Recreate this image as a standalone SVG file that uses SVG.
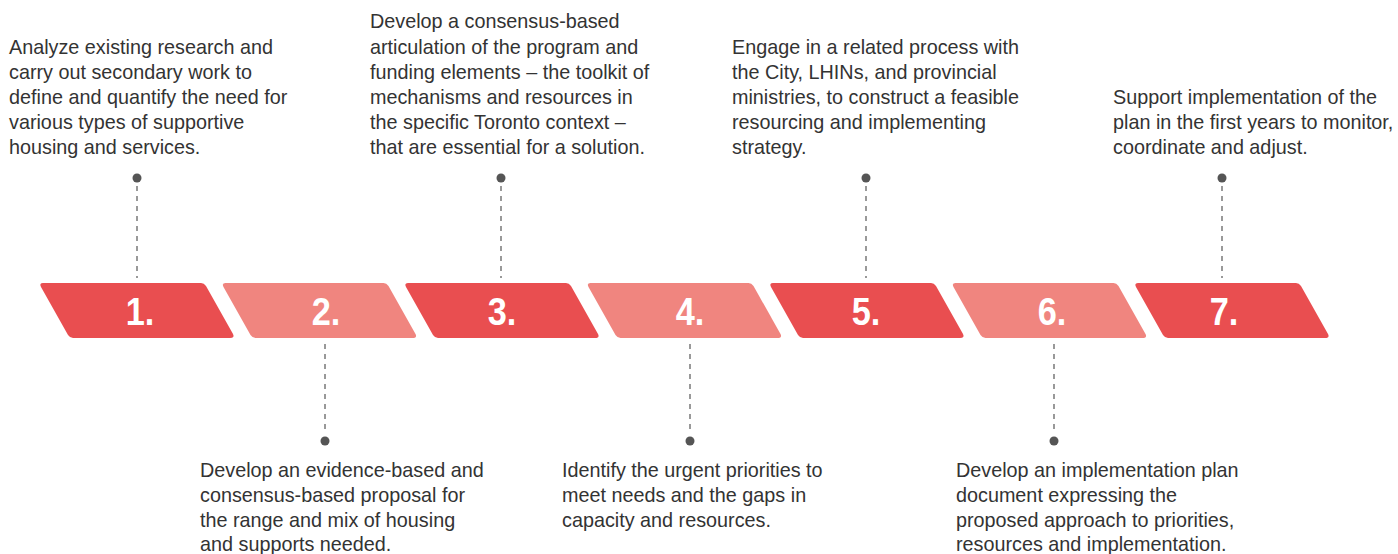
<svg xmlns="http://www.w3.org/2000/svg" width="1398" height="554" viewBox="0 0 1398 554">
<defs>
<style>
.t{font-family:"Liberation Sans",Arial,sans-serif;font-size:19.8px;fill:#333}
.n{font-family:"Liberation Sans",Arial,sans-serif;font-size:39px;font-weight:bold;fill:#fff;text-anchor:middle}
.d{fill:#E94E50}
.l{fill:#F0857F}
.c{stroke:#999;stroke-width:2;stroke-dasharray:5 5;fill:none}
.dot{fill:#555}
</style>
<path id="shape" d="M3,0 L161,0 Q164,0 166,3 L193,51 Q195,55 190,55 L33,55 Q30,55 28,52 L1,4 Q-1,0 3,0 Z"/>
</defs>
<rect width="1398" height="554" fill="#fff"/>
<g id="connectors">
<line class="c" x1="137" y1="186" x2="137" y2="278"/>
<circle class="dot" cx="137" cy="178" r="4.5"/>
<line class="c" x1="325" y1="344" x2="325" y2="433"/>
<circle class="dot" cx="325" cy="441" r="4.5"/>
<line class="c" x1="501" y1="186" x2="501" y2="278"/>
<circle class="dot" cx="501" cy="178" r="4.5"/>
<line class="c" x1="690" y1="344" x2="690" y2="433"/>
<circle class="dot" cx="690" cy="441" r="4.5"/>
<line class="c" x1="866" y1="186" x2="866" y2="278"/>
<circle class="dot" cx="866" cy="178" r="4.5"/>
<line class="c" x1="1054" y1="344" x2="1054" y2="433"/>
<circle class="dot" cx="1054" cy="441" r="4.5"/>
<line class="c" x1="1222" y1="186" x2="1222" y2="278"/>
<circle class="dot" cx="1222" cy="178" r="4.5"/>
</g>
<g id="step1">
<use href="#shape" class="d" x="40" y="283"/>
<text class="n" transform="translate(140 325) scale(0.88 1)">1.</text>
<text class="t" x="9" y="54">Analyze existing research and</text>
<text class="t" x="9" y="79">carry out secondary work to</text>
<text class="t" x="9" y="104">define and quantify the need for</text>
<text class="t" x="9" y="129">various types of supportive</text>
<text class="t" x="9" y="154">housing and services.</text>
</g>
<g id="step2">
<use href="#shape" class="l" x="222.5" y="283"/>
<text class="n" transform="translate(326 325) scale(0.88 1)">2.</text>
<text class="t" x="200" y="477">Develop an evidence-based and</text>
<text class="t" x="200" y="502">consensus-based proposal for</text>
<text class="t" x="200" y="527">the range and mix of housing</text>
<text class="t" x="200" y="551">and supports needed.</text>
</g>
<g id="step3">
<use href="#shape" class="d" x="405" y="283"/>
<text class="n" transform="translate(502 325) scale(0.88 1)">3.</text>
<text class="t" x="370" y="28">Develop a consensus-based</text>
<text class="t" x="370" y="54">articulation of the program and</text>
<text class="t" x="370" y="79">funding elements – the toolkit of</text>
<text class="t" x="370" y="104">mechanisms and resources in</text>
<text class="t" x="370" y="129">the specific Toronto context –</text>
<text class="t" x="370" y="154">that are essential for a solution.</text>
</g>
<g id="step4">
<use href="#shape" class="l" x="587.5" y="283"/>
<text class="n" transform="translate(690 325) scale(0.88 1)">4.</text>
<text class="t" x="562" y="477">Identify the urgent priorities to</text>
<text class="t" x="562" y="502">meet needs and the gaps in</text>
<text class="t" x="562" y="527">capacity and resources.</text>
</g>
<g id="step5">
<use href="#shape" class="d" x="770" y="283"/>
<text class="n" transform="translate(866 325) scale(0.88 1)">5.</text>
<text class="t" x="732" y="54">Engage in a related process with</text>
<text class="t" x="732" y="79">the City, LHINs, and provincial</text>
<text class="t" x="732" y="104">ministries, to construct a feasible</text>
<text class="t" x="732" y="129">resourcing and implementing</text>
<text class="t" x="732" y="154">strategy.</text>
</g>
<g id="step6">
<use href="#shape" class="l" x="952.5" y="283"/>
<text class="n" transform="translate(1052 325) scale(0.88 1)">6.</text>
<text class="t" x="956" y="477">Develop an implementation plan</text>
<text class="t" x="956" y="502">document expressing the</text>
<text class="t" x="956" y="527">proposed approach to priorities,</text>
<text class="t" x="956" y="551">resources and implementation.</text>
</g>
<g id="step7">
<use href="#shape" class="d" x="1135" y="283"/>
<text class="n" transform="translate(1224 325) scale(0.88 1)">7.</text>
<text class="t" x="1113" y="104">Support implementation of the</text>
<text class="t" x="1113" y="129">plan in the first years to monitor,</text>
<text class="t" x="1113" y="154">coordinate and adjust.</text>
</g>
</svg>
